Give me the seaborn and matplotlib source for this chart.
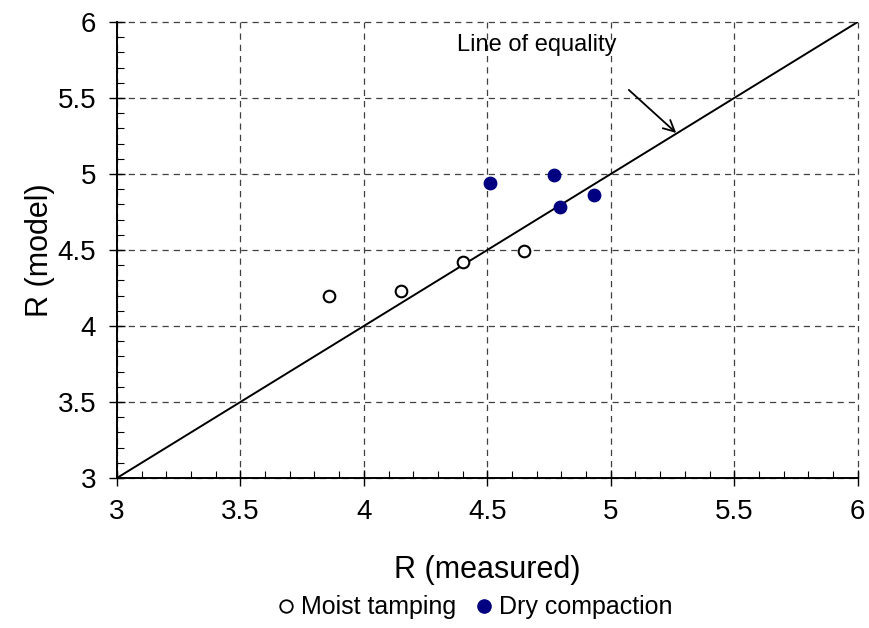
import matplotlib
matplotlib.use("Agg")
import matplotlib.pyplot as plt
import seaborn as sns
import pandas as pd
from matplotlib.ticker import MultipleLocator
from matplotlib.lines import Line2D

moist_measured = [3.86, 4.15, 4.40, 4.65]
moist_model = [4.20, 4.23, 4.42, 4.49]
dry_measured = [4.51, 4.77, 4.795, 4.93]
dry_model = [4.94, 4.99, 4.78, 4.86]
equality = [3, 6]
ticks = [3, 3.5, 4, 4.5, 5, 5.5, 6]
tick_labels = ["3", "3.5", "4", "4.5", "5", "5.5", "6"]

sns.set_style("white")
plt.rcParams['font.family'] = ['Liberation Sans', 'DejaVu Sans']
plt.rcParams['text.color'] = 'black'
plt.rcParams['axes.labelcolor'] = 'black'
plt.rcParams['xtick.color'] = 'black'
plt.rcParams['ytick.color'] = 'black'

fig = plt.figure(figsize=(8.69, 6.28), dpi=100)
ax = fig.add_axes([0.1346, 0.2389, 0.8524, 0.7261])

moist = pd.DataFrame({"x": moist_measured, "y": moist_model})
dry = pd.DataFrame({"x": dry_measured, "y": dry_model})

ax.grid(True, which="major", linestyle=(0, (5, 4)), color="#404040", linewidth=0.9)
ax.set_axisbelow(True)

sns.lineplot(x=equality, y=equality, ax=ax, color="black", linewidth=1.4, zorder=2)
sns.scatterplot(data=moist, x="x", y="y", ax=ax, marker="o", s=70,
                facecolor="white", edgecolor="black", linewidth=1.5, zorder=3)
sns.scatterplot(data=dry, x="x", y="y", ax=ax, marker="o", s=80,
                color="#000080", edgecolor="#000080", linewidth=1, zorder=3)

ax.set_xlim(3, 6)
ax.set_ylim(3, 6)
ax.set_xticks(ticks)
ax.set_xticklabels(tick_labels)
ax.set_yticks(ticks)
ax.set_yticklabels(tick_labels)
ax.xaxis.set_minor_locator(MultipleLocator(0.1))
ax.yaxis.set_minor_locator(MultipleLocator(0.1))
ax.tick_params(which="major", direction="inout", length=12, width=1, labelsize=20, pad=9)
ax.tick_params(which="minor", direction="in", length=5, width=0.8)
ax.tick_params(axis="both", which="both", bottom=True, left=True)
for gl in ax.get_xgridlines() + ax.get_ygridlines():
    gl.set_clip_on(False)

for s in ["top", "right"]:
    ax.spines[s].set_visible(False)
for s in ["left", "bottom"]:
    ax.spines[s].set_color("black")
    ax.spines[s].set_linewidth(1.4)

ax.set_xlabel("R (measured)", fontsize=22, labelpad=22)
ax.set_ylabel("R (model)", fontsize=22, labelpad=2)

ax.annotate("", xy=(5.265, 5.27), xytext=(5.073, 5.553),
            arrowprops=dict(arrowstyle="->", color="black", lw=1.3, shrinkA=0, shrinkB=0,
                            mutation_scale=20))
ax.text(4.70, 5.85, "Line of equality", fontsize=17, ha="center", va="center")

handles = [
    Line2D([], [], marker="o", linestyle="none", markerfacecolor="white",
           markeredgecolor="black", markeredgewidth=1.3, markersize=9, label="Moist tamping"),
    Line2D([], [], marker="o", linestyle="none", markerfacecolor="#000080",
           markeredgecolor="#000080", markersize=9.5, label="Dry compaction"),
]
fig.legend(handles=handles, loc="center", bbox_to_anchor=(0.543, 0.033), ncol=2,
           frameon=False, fontsize=18, handletextpad=0.0, columnspacing=0.5,
           handlelength=1.2)

fig.savefig("out.png", dpi=100)
